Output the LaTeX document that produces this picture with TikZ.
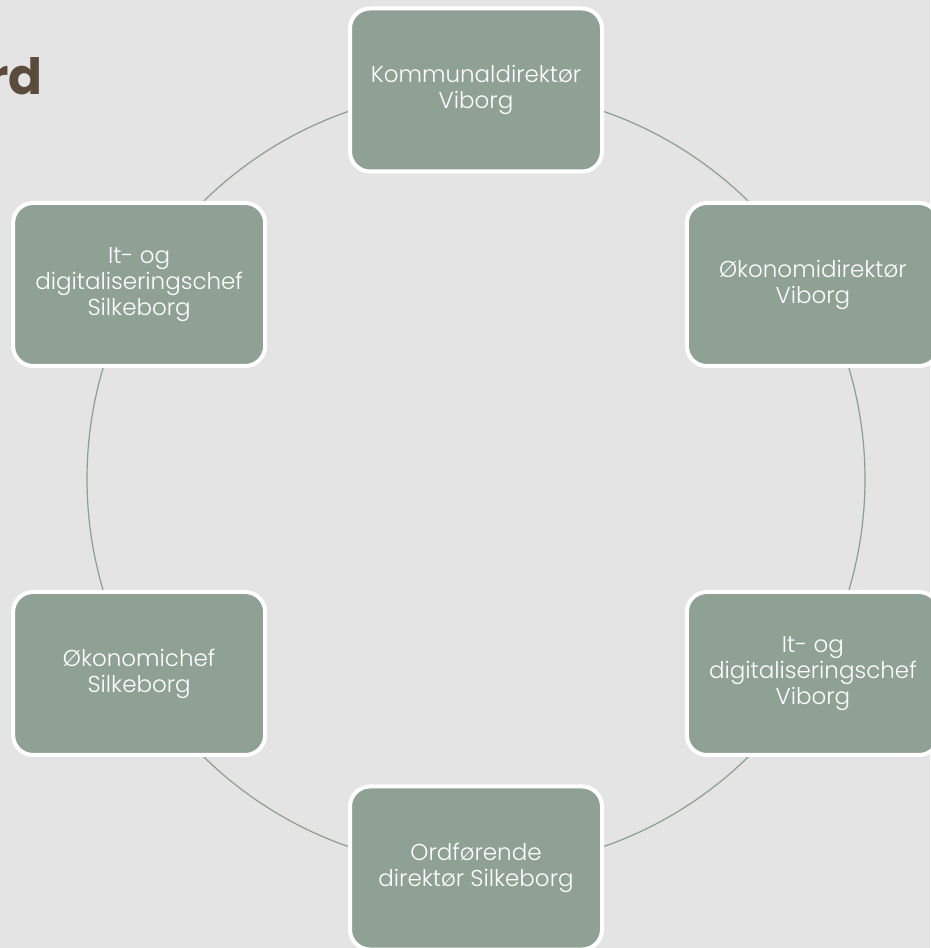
\documentclass[tikz,border=0pt]{standalone}
\usepackage{fontspec}
\setmainfont{Poppins}
\newfontfamily\lightfont{Poppins Light}
\usepackage{xcolor}
\usetikzlibrary{calc}

\definecolor{slidebg}{HTML}{E4E4E4}
\definecolor{sage}{HTML}{8FA094}
\definecolor{ringline}{HTML}{8A9E92}
\definecolor{titlebrown}{HTML}{5A4B3C}

\begin{document}
\begin{tikzpicture}[x=1pt, y=1pt,
    member/.style={draw=white, line width=4pt, fill=sage, rounded corners=20pt,
      minimum width=252pt, minimum height=163pt, align=center, text=white,
      font=\lightfont\fontsize{23}{26}\selectfont}]
    \fill[slidebg] (0,0) rectangle (930,948);
    \useasboundingbox (0,0) rectangle (930,948);
    \node[anchor=base east, inner xsep=0pt, text=titlebrown, font=\bfseries\fontsize{50}{50}\selectfont] (title) at (43,853) {rd};
    \coordinate (centre) at (476,469);
    \draw[ringline, line width=1.2pt] (centre) circle (389pt);
    \node[member] (kd) at ($(centre)+(90:389pt)$) {Kommunaldirektør\\Viborg};
    \node[member] (od) at ($(centre)+(30:389pt)$) {Økonomidirektør\\Viborg};
    \node[member] (itv) at ($(centre)+(-30:389pt)$) {It- og\\digitaliseringschef\\Viborg};
    \node[member] (ofd) at ($(centre)+(-90:389pt)$) {Ordførende\\direktør Silkeborg};
    \node[member] (oks) at ($(centre)+(210:389pt)$) {Økonomichef\\Silkeborg};
    \node[member] (its) at ($(centre)+(150:389pt)$) {It- og\\digitaliseringschef\\Silkeborg};
\end{tikzpicture}
\end{document}
